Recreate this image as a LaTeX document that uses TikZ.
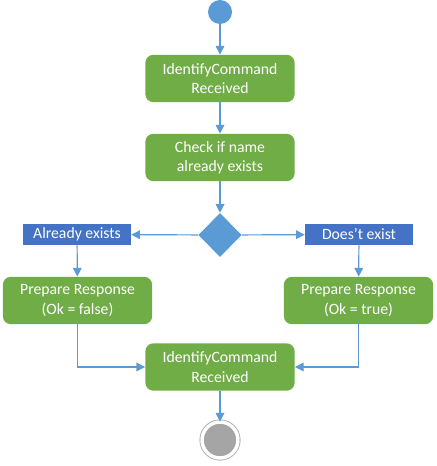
\documentclass[tikz,border=0pt]{standalone}
\usepackage{fontspec}
\setmainfont{Carlito}
\usetikzlibrary{arrows.meta,shapes.geometric}
\definecolor{actgreen}{HTML}{70AD47}
\definecolor{startblue}{HTML}{5B9BD5}
\definecolor{labelblue}{HTML}{4472C4}
\definecolor{linkblue}{HTML}{5B9BD5}
\definecolor{endgray}{HTML}{A5A5A5}
\tikzset{
  act/.style={rectangle, rounded corners=6pt, fill=actgreen, draw=none, text=white,
    minimum width=112pt, minimum height=35.5pt, align=center, inner sep=0pt,
    font=\fontsize{11.8}{14.5}\selectfont},
  guard/.style={rectangle, fill=labelblue, draw=none, text=white,
    minimum width=81pt, minimum height=16pt, inner sep=0pt,
    font=\fontsize{11.8}{14.5}\selectfont},
  link/.style={draw=linkblue, line width=0.9pt, -{Triangle[length=6.5pt,width=6.5pt]}},
  decision/.style={diamond, fill=startblue, draw=none, minimum width=32.5pt, minimum height=33pt, inner sep=0pt},
  startdot/.style={circle, fill=startblue, draw=none, minimum size=18pt, inner sep=0pt},
  enddot/.style={circle, fill=endgray, draw=gray!70, double=white, double distance=2.6pt, line width=0.6pt, minimum size=27pt, inner sep=0pt}
}
\begin{document}
\begin{tikzpicture}[x=0.75pt,y=-0.75pt]
\useasboundingbox (0,0) rectangle (436,466);
\node[startdot] (start) at (220,12) {};
\node[act] (recv) at (220,78.5) {IdentifyCommand\\Received};
\node[act] (check) at (220,157.5) {Check if name\\already exists};
\node[decision] (dec) at (220,235) {};
\node[guard] (exists) at (77,234.5) {Already exists};
\node[guard] (notexists) at (359,234.5) {Does{\char39}t exist};
\node[act] (prepf) at (77.5,300.5) {Prepare Response\\(Ok = false)};
\node[act] (prept) at (358.5,300.5) {Prepare Response\\(Ok = true)};
\node[act] (recv2) at (220,367) {IdentifyCommand\\Received};
\node[enddot] (end) at (220,440) {};
\draw[link] (start) -- (recv);
\draw[link] (recv) -- (check);
\draw[link] (check) -- (dec);
\draw[link] (dec) -- (exists);
\draw[link] (dec) -- (notexists);
\draw[link] (exists) -- (prepf);
\draw[link] (notexists) -- (prept);
\draw[link] (prepf.south) |- (recv2.west);
\draw[link] (prept.south) |- (recv2.east);
\draw[link] (recv2) -- (end);
\end{tikzpicture}
\end{document}
